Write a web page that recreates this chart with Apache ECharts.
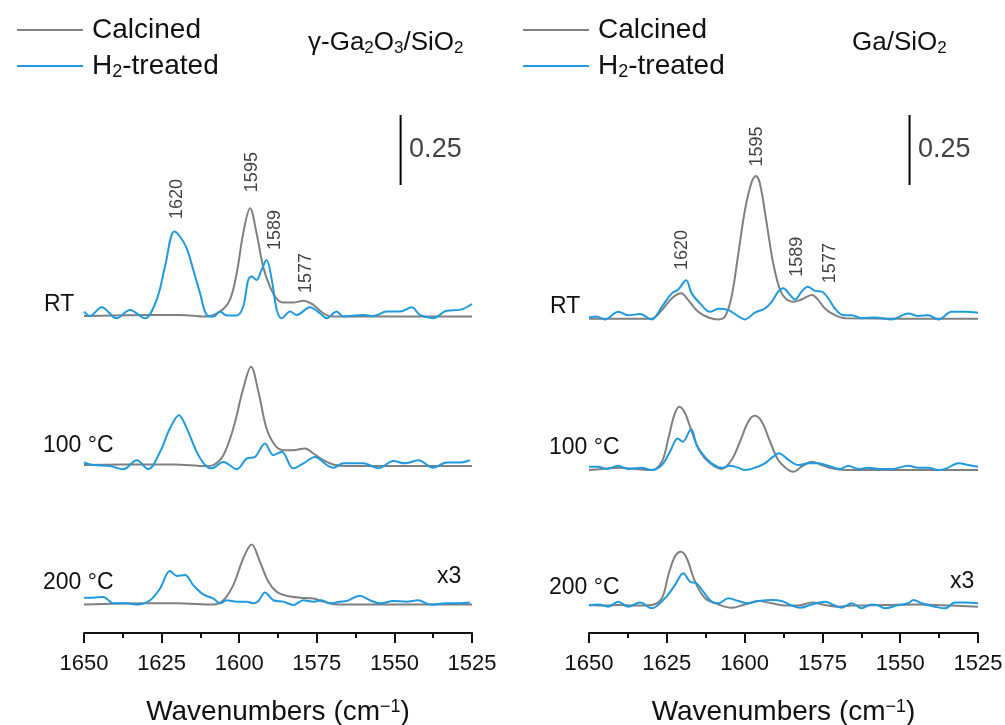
<!DOCTYPE html>
<html>
<head>
<meta charset="utf-8">
<script src="https://cdn.jsdelivr.net/npm/echarts@6/dist/echarts.min.js"></script>
<style>
  html, body { margin: 0; background: #fff; }
  #chart { width: 1005px; height: 725px; }
</style>
</head>
<body>
<div id="chart"></div>
<script>
// --- data: [wavenumber, absorbance above its own baseline] ---
const wnTicks = [1650, 1625, 1600, 1575, 1550, 1525];
const sampleNames = ['RT', '100 °C', '200 °C'];

// γ-Ga2O3/SiO2
const leftCalcRT = [[1650,0.002],[1630,0.006],[1619,0.006],[1611,0],[1606.2,0.018],[1603,0.06],[1600.8,0.155],[1598.7,0.298],[1596.5,0.387],[1594.4,0.298],[1592.3,0.179],[1590.1,0.107],[1588,0.065],[1585.8,0.05],[1582.6,0.05],[1579.3,0.057],[1576.1,0.042],[1572.9,0.012],[1569.7,0],[1525,0]];
const leftH2RT = [[1650,0.018],[1648.1,0.002],[1644.3,0.033],[1639.5,-0.006],[1635.2,0.024],[1630.4,-0.006],[1626.6,0.06],[1623.9,0.179],[1620.9,0.304],[1619.1,0.286],[1616.9,0.244],[1614.8,0.167],[1612.6,0.083],[1610.5,0.006],[1608.3,0],[1606.2,0.018],[1604,0.004],[1600.8,0.004],[1598.7,0.036],[1597.1,0.131],[1596,0.143],[1594.4,0.131],[1592.8,0.167],[1591.2,0.202],[1589.5,0.131],[1587.9,0.024],[1586.3,-0.006],[1583.6,0.018],[1581.5,0.006],[1577.2,0.033],[1574,0.012],[1571.8,-0.006],[1568.6,0.018],[1566.5,0],[1560,0.006],[1556.8,0.002],[1552.5,0.018],[1548.2,0.018],[1544.4,0.033],[1541.8,0.006],[1537.5,-0.006],[1533.2,0.021],[1528.9,0.024],[1525,0.045]];
const leftCalc100 = [[1650,0.004],[1630,0.006],[1621.2,0.006],[1610.5,0],[1608.3,0.004],[1605.1,0.039],[1601.9,0.135],[1598.7,0.277],[1596.2,0.355],[1593.8,0.265],[1591.2,0.135],[1588.5,0.075],[1585.8,0.057],[1582.6,0.057],[1578.8,0.063],[1576.1,0.045],[1572.9,0.021],[1569.7,0.006],[1565.4,0],[1525,0]];
const leftH2_100 = [[1650,0.013],[1647,0.004],[1641.6,0],[1637.3,-0.011],[1633,0.021],[1629.3,-0.011],[1625.5,0.051],[1622.3,0.135],[1619.4,0.182],[1616.9,0.135],[1613.7,0.051],[1611,0.004],[1608.9,-0.008],[1605.1,0.015],[1600.8,-0.011],[1597.6,0.027],[1594.9,0.033],[1591.7,0.081],[1589,0.039],[1586.3,0.051],[1582.6,-0.008],[1579.3,0.01],[1575.6,0.033],[1571.8,0.004],[1569.7,-0.006],[1566.4,0.01],[1560,0.01],[1556.8,-0.002],[1555.2,-0.008],[1550.3,0.018],[1546.6,0.01],[1542.3,0.021],[1537.5,-0.006],[1533.2,0.013],[1528.9,0.013],[1525.7,0.021]];
const leftCalc200 = [[1650,0],[1630,0.004],[1620,0.004],[1608.3,0],[1605.1,0.015],[1601.9,0.069],[1598.7,0.164],[1596,0.214],[1593.3,0.152],[1590.6,0.081],[1587.9,0.045],[1584.7,0.031],[1580.4,0.024],[1576.1,0.021],[1572.9,0.01],[1568.6,0],[1525,0]];
const leftH2_200 = [[1650,0.024],[1647,0.024],[1643.8,0.027],[1640.5,0.004],[1636.3,0.004],[1632.5,0],[1628.7,0.015],[1625.5,0.057],[1622.3,0.119],[1620.1,0.102],[1617.5,0.105],[1614.8,0.069],[1611.6,0.036],[1608.3,0.021],[1606.2,0.004],[1604,0.015],[1600.8,0.01],[1597.6,0.01],[1595.4,0.004],[1593.8,0.012],[1591.7,0.043],[1589,0.015],[1585.8,0.01],[1582.6,-0.002],[1579.3,0.015],[1576.1,0.01],[1573.4,0.015],[1570.7,0.004],[1567.5,0.01],[1565.4,0.012],[1561.1,0.031],[1557.9,0.015],[1554.6,0.004],[1550.3,0.012],[1546.1,0.01],[1542.3,0.015],[1538.5,0],[1533.2,0.004],[1528.9,0.004],[1525.7,0.007]];

// Ga/SiO2
const rightCalcRT = [[1650,0.002],[1630,0.002],[1626.6,0.033],[1623.4,0.075],[1620.4,0.093],[1618.1,0.069],[1614.9,0.027],[1611.6,0.007],[1608.4,0],[1606.3,0.01],[1604.2,0.081],[1602,0.236],[1599.9,0.39],[1597.7,0.492],[1596.4,0.512],[1595.1,0.486],[1592.9,0.343],[1590.8,0.2],[1588.6,0.105],[1586.5,0.071],[1584.3,0.063],[1581.7,0.071],[1578.4,0.087],[1576.3,0.069],[1574.2,0.039],[1571,0.015],[1567.7,0.004],[1525,0.002]];
const rightH2RT = [[1650,0.007],[1647.5,0.01],[1644.9,0],[1640.6,0.027],[1637.4,0.015],[1633.6,0.019],[1629.9,0],[1626.6,0.045],[1623.4,0.093],[1621.3,0.107],[1618.8,0.14],[1617,0.093],[1614.3,0.057],[1611.1,0.027],[1608.4,0.038],[1605.2,0.033],[1602.6,0.015],[1599.9,0],[1596.7,0.024],[1593.5,0.039],[1591.3,0.063],[1589.2,0.099],[1587.6,0.111],[1585.4,0.087],[1583.8,0.071],[1581.7,0.099],[1579.7,0.117],[1577.4,0.102],[1575.2,0.099],[1573.1,0.075],[1571,0.039],[1568.3,0.015],[1565.6,0.015],[1562.4,0.004],[1558.1,0.007],[1552.7,0],[1547.4,0.021],[1544.2,0.012],[1541,0.015],[1537.7,0],[1533.5,0.027],[1529.2,0.027],[1525,0.024]];
const rightCalc100 = [[1650,0],[1645.9,0.004],[1640.6,0.008],[1635.2,0.004],[1629.9,0],[1626.6,0.03],[1624.5,0.113],[1622.6,0.196],[1621,0.226],[1619.1,0.202],[1617,0.137],[1614.3,0.065],[1611.1,0.024],[1607.4,0.004],[1604.2,0.036],[1601.5,0.101],[1598.8,0.173],[1596.7,0.194],[1594.5,0.173],[1591.8,0.101],[1589.2,0.036],[1585.9,0],[1584.3,-0.006],[1581.7,0.012],[1578.4,0.03],[1575.2,0.018],[1572,0.006],[1567.7,0],[1525,0]];
const rightH2_100 = [[1650,0.012],[1647,0.012],[1644.3,0.004],[1640.6,0.015],[1637.4,0.004],[1633.1,0.008],[1629.9,0],[1626.6,0.018],[1624,0.065],[1621.5,0.113],[1619.9,0.101],[1617.2,0.146],[1615.4,0.089],[1613.3,0.054],[1610.6,0.024],[1607.4,0.008],[1604.7,0.015],[1602,0.008],[1599.9,0],[1596.7,0.008],[1593.5,0.024],[1590.8,0.048],[1589,0.06],[1585.9,0.036],[1582.7,0.018],[1579.5,0.024],[1576.3,0.024],[1573.1,0.015],[1569.3,0.004],[1566.7,0.015],[1563.5,0.004],[1560.2,0.008],[1557,0.004],[1552.7,0.004],[1547.4,0.015],[1544.2,0.008],[1541,0.008],[1537.7,0],[1535.1,0.006],[1531.3,0.024],[1528.1,0.018],[1525,0.012]];
const rightCalc200 = [[1650,0.006],[1644.9,0.004],[1640.6,0.006],[1635.2,0.004],[1629.9,0.006],[1626.6,0.03],[1624.5,0.113],[1622.4,0.179],[1620.5,0.196],[1618.6,0.173],[1615.9,0.089],[1612.7,0.03],[1608.4,0.008],[1604.2,-0.004],[1599.9,0.008],[1595.6,0.02],[1591.3,0.012],[1587,0.004],[1582.7,0.004],[1578.4,0.015],[1574.2,0.006],[1569.9,0],[1565.6,0.004],[1554.9,0.006],[1544.2,0.008],[1533.5,0.004],[1525,0]];
const rightH2_200 = [[1650,0.004],[1647,0.008],[1643.8,0],[1640.6,0.018],[1637.4,0],[1633.6,0.015],[1629.9,-0.006],[1625.6,0.03],[1622.4,0.077],[1619.7,0.119],[1617.5,0.089],[1615.4,0.083],[1613.3,0.054],[1610.6,0.018],[1608.4,0.012],[1605.2,0.03],[1602,0.02],[1598.8,0.012],[1595.6,0.02],[1591.3,0.024],[1588.1,0.02],[1584.9,0.004],[1582.2,-0.004],[1578.4,0.008],[1574.2,0.018],[1571,0.004],[1568.8,-0.004],[1565.6,0.012],[1562.4,-0.006],[1559.2,0.008],[1557,0.004],[1554.9,-0.006],[1550.6,0.006],[1547.4,0.012],[1545.8,0.024],[1543.1,0.012],[1538.8,0],[1535.6,-0.006],[1532.4,0.015],[1529.2,0.015],[1525,0.012]];

// vertical offsets of the stacked spectra (RT, 100, 200)
const leftOffsets = [1.13, 0.596, 0.102];
const rightOffsets = [1.12, 0.582, 0.094];

// peak annotations: text, wavenumber where it sits, height of its centre
const leftPeakText = ['1620', '1595', '1589', '1577'];
const leftPeakX = [1620.1, 1596, 1588.5, 1578.5];
const leftPeakY = [1.55, 1.646, 1.439, 1.286];
const rightPeakText = ['1620', '1595', '1589', '1577'];
const rightPeakX = [1620.2, 1596.1, 1583.3, 1572.6];
const rightPeakY = [1.368, 1.7375, 1.344, 1.321];

// 0.25 absorbance scale bar (left panel, right panel)
const scaleBarX = [1548, 1547];
const scaleBarFrom = 1.6;
const scaleBarLen = 0.25;

const FONT = '"Liberation Sans", Arial, sans-serif';
const GRAY = '#808080';
const BLUE = '#1f9ae0';
const INK = '#111';

const chart = echarts.init(document.getElementById('chart'));

function spectrum(name, pts, offset, color, idx) {
  return {
    name: name,
    type: 'line',
    xAxisIndex: idx,
    yAxisIndex: idx,
    data: pts.map(p => [p[0], p[1] + offset]),
    showSymbol: false,
    symbol: 'none',
    smooth: 0.35,
    lineStyle: { color: color, width: 2 },
    itemStyle: { color: color },
    z: color === BLUE ? 3 : 2
  };
}

function peakLabels(texts, xs, ys, idx) {
  return {
    type: 'scatter',
    xAxisIndex: idx,
    yAxisIndex: idx,
    symbolSize: 1,
    itemStyle: { color: 'transparent' },
    data: texts.map((t, i) => ({ name: t, value: [xs[i], ys[i]] })),
    label: {
      show: true,
      position: 'inside',
      rotate: 90,
      formatter: '{b}',
      fontFamily: FONT,
      fontSize: 18,
      color: INK
    },
    z: 5
  };
}

function scaleBar(idx) {
  const x = scaleBarX[idx];
  return [
    {
      type: 'line',
      xAxisIndex: idx,
      yAxisIndex: idx,
      data: [[x, scaleBarFrom], [x, scaleBarFrom + scaleBarLen]],
      symbol: 'none',
      lineStyle: { color: '#000', width: 2 }
    },
    {
      type: 'scatter',
      xAxisIndex: idx,
      yAxisIndex: idx,
      symbolSize: 1,
      itemStyle: { color: 'transparent' },
      data: [{ name: String(scaleBarLen), value: [x, scaleBarFrom + scaleBarLen / 2] }],
      label: {
        show: true,
        position: 'right',
        distance: 8,
        formatter: '{b}',
        fontFamily: FONT,
        fontSize: 27,
        color: INK
      }
    }
  ];
}

// subscripts: main text gets a fixed line height, the small digits sit at its bottom
function subRich(size) {
  return {
    sub: { fontSize: Math.round(size * 0.66), lineHeight: 4, verticalAlign: 'bottom', fontFamily: FONT, color: INK }
  };
}

function xAxisFor(idx) {
  return {
    type: 'value',
    gridIndex: idx,
    min: wnTicks[wnTicks.length - 1],
    max: wnTicks[0],
    interval: 25,
    inverse: true,
    axisLine: { lineStyle: { color: '#111', width: 2 } },
    axisTick: { length: 10, lineStyle: { color: '#111', width: 2 } },
    minorTick: { show: true, splitNumber: 2, length: 5, lineStyle: { color: '#111', width: 2 } },
    splitLine: { show: false },
    axisLabel: { fontFamily: FONT, fontSize: 22, color: INK, margin: 20, formatter: v => String(v) },
    name: 'Wavenumbers (cm{sup|−1})',
    nameLocation: 'middle',
    nameGap: 65,
    nameTextStyle: {
      fontFamily: FONT, fontSize: 28, color: INK,
      rich: { sup: { fontSize: 18, lineHeight: 14, verticalAlign: 'top', fontFamily: FONT, color: INK } }
    }
  };
}

function yAxisFor(idx) {
  return { type: 'value', gridIndex: idx, min: 0, max: 1.9, show: false };
}

function legendAt(left) {
  return {
    orient: 'vertical',
    left: left,
    top: 10,
    itemWidth: 66,
    itemHeight: 2,
    itemGap: 6,
    icon: 'rect',
    data: ['Calcined', 'H2-treated'],
    formatter: n => n === 'H2-treated' ? 'H{sub|2}-treated' : n,
    textStyle: { fontFamily: FONT, fontSize: 28, lineHeight: 30, color: INK, padding: [0, 0, 0, 4], rich: subRich(28) }
  };
}

const series = [];
const panels = [
  { idx: 0, offs: leftOffsets, calc: [leftCalcRT, leftCalc100, leftCalc200], h2: [leftH2RT, leftH2_100, leftH2_200] },
  { idx: 1, offs: rightOffsets, calc: [rightCalcRT, rightCalc100, rightCalc200], h2: [rightH2RT, rightH2_100, rightH2_200] }
];
panels.forEach(p => {
  for (let i = 0; i < 3; i++) {
    series.push(spectrum('Calcined', p.calc[i], p.offs[i], GRAY, p.idx));
    series.push(spectrum('H2-treated', p.h2[i], p.offs[i], BLUE, p.idx));
  }
  series.push(...scaleBar(p.idx));
});
series.push(peakLabels(leftPeakText, leftPeakX, leftPeakY, 0));
series.push(peakLabels(rightPeakText, rightPeakX, rightPeakY, 1));

// row labels on the left of each panel, "x3" on the right
function txt(text, x, y) {
  return {
    type: 'text', x: x, y: y,
    style: { text: text, fontFamily: FONT, fontSize: 23, fill: INK, align: 'left', verticalAlign: 'middle' }
  };
}
const rowY = { left: [305, 446, 583], right: [307, 448, 588] };
const graphics = [];
sampleNames.forEach((s, i) => {
  graphics.push(txt(s, i === 0 ? 44 : 43, rowY.left[i]));
  graphics.push(txt(s, i === 0 ? 550 : 549, rowY.right[i]));
});
graphics.push(txt('x3', 437, 577));
graphics.push(txt('x3', 950, 582));

const titleStyle = { fontFamily: FONT, fontSize: 26, lineHeight: 28, fontWeight: 'normal', color: INK, rich: subRich(26) };

chart.setOption({
  animation: false,
  backgroundColor: '#fff',
  title: [
    { text: 'γ-Ga{sub|2}O{sub|3}/SiO{sub|2}', left: 303, top: 24, textStyle: titleStyle },
    { text: 'Ga/SiO{sub|2}', left: 847, top: 24, textStyle: titleStyle }
  ],
  legend: [legendAt(12), legendAt(518)],
  grid: [
    { left: 84, width: 388, top: 101, height: 532, outerBoundsMode: 'none' },
    { left: 589, width: 389, top: 101, height: 532, outerBoundsMode: 'none' }
  ],
  xAxis: [xAxisFor(0), xAxisFor(1)],
  yAxis: [yAxisFor(0), yAxisFor(1)],
  graphic: graphics,
  series: series
});
</script>
</body>
</html>
